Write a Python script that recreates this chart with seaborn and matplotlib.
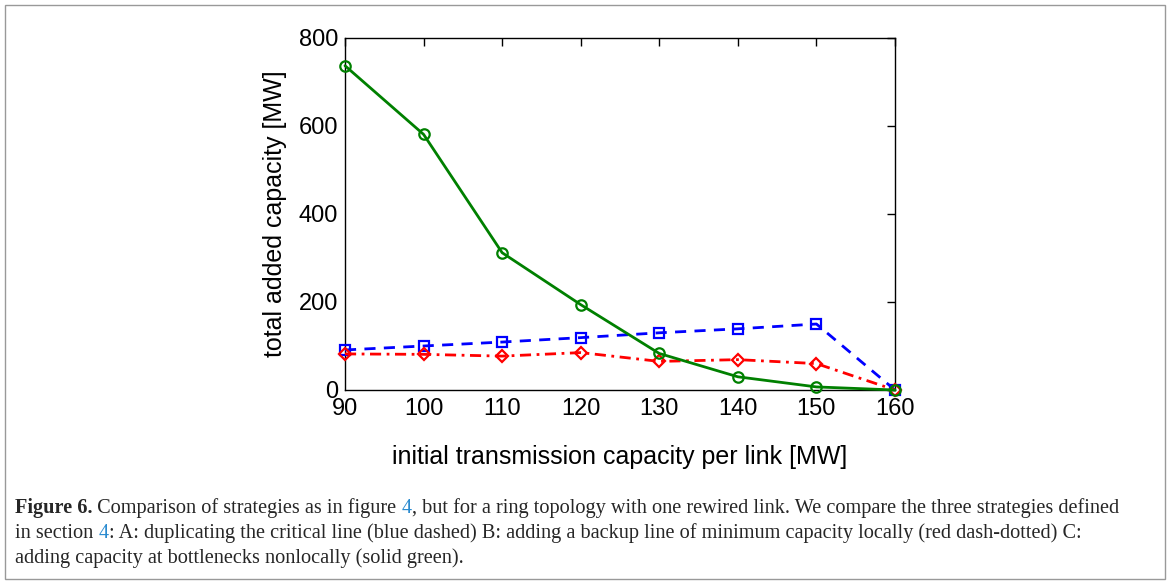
import matplotlib
matplotlib.use("Agg")
import matplotlib.pyplot as plt
import seaborn as sns
import pandas as pd
from matplotlib.patches import Rectangle

capacity = [90, 100, 110, 120, 130, 140, 150, 160]
strategy_a = [91, 100, 109, 119, 130, 139, 150, 0]   # blue dashed
strategy_b = [82, 81, 77, 85, 65, 69, 60, 0]          # red dash-dotted
strategy_c = [737, 581, 312, 194, 83, 30, 7, 0]       # solid green
x_ticks = [90, 100, 110, 120, 130, 140, 150, 160]
y_ticks = [0, 200, 400, 600, 800]

sns.set_theme(style="white")
plt.rcParams['font.family'] = ['Liberation Sans', 'DejaVu Sans']

fig = plt.figure(figsize=(11.71, 5.84), dpi=100)
ax = fig.add_axes([345/1171, 1-390/584, (895-345)/1171, (390-38)/584])

df = pd.DataFrame({"x": capacity * 3,
                   "y": strategy_a + strategy_b + strategy_c,
                   "s": ["A"] * 8 + ["B"] * 8 + ["C"] * 8})

styles = {
    "A": dict(color=(0, 0, 1), ls=(0, (4, 3)), marker="s"),
    "B": dict(color=(1, 0, 0), ls=(0, (4, 2, 1, 2)), marker="D"),
    "C": dict(color=(0, 0.5, 0), ls="-", marker="o"),
}
for key in ["A", "B", "C"]:
    st = styles[key]
    sub = df[df.s == key]
    ms = 7.5 if key != "B" else 6
    sns.lineplot(data=sub, x="x", y="y", ax=ax, color=st["color"],
                 linestyle=st["ls"], linewidth=2, marker=st["marker"],
                 markersize=ms, markerfacecolor="none",
                 markeredgecolor=st["color"], markeredgewidth=1.6,
                 legend=False, clip_on=False, zorder=3)

ax.set_xlim(90, 160)
ax.set_ylim(0, 800)
ax.set_xticks(x_ticks)
ax.set_yticks(y_ticks)
ax.tick_params(direction="in", length=6, width=1, top=True, right=True,
               labelsize=17, colors="black")
ax.tick_params(axis="x", pad=6)
ax.tick_params(axis="y", pad=5)
for sp in ax.spines.values():
    sp.set_visible(True)
    sp.set_color("black")
    sp.set_linewidth(1)
ax.set_xlabel("initial transmission capacity per link [MW]", fontsize=18,
              labelpad=18, color="black")
ax.set_ylabel("total added capacity [MW]", fontsize=18, labelpad=8,
              color="black")
ax.grid(False)

# border box
fig.patches.append(Rectangle((5/1171, 5/584), 1160/1171, 574/584,
                             transform=fig.transFigure, fill=False,
                             edgecolor="#999999", linewidth=1))

# caption
serif = ['Liberation Serif', 'DejaVu Serif']
fs = 14.6
renderer = fig.canvas.get_renderer()

def write_line(parts, x0, y):
    x = x0
    for txt, kw in parts:
        t = fig.text(x / 1171, 1 - y / 584, txt, family=serif, fontsize=fs,
                     va="baseline", ha="left", **kw)
        bb = t.get_window_extent(renderer=renderer)
        x += bb.width

blue_link = dict(color="#2a8bd0")
write_line([("Figure 6.", dict(weight="bold")),
            (" Comparison of strategies as in figure ", {}),
            ("4", blue_link),
            (", but for a ring topology with one rewired link. We compare the three strategies defined", {})],
           15, 513)
write_line([("in section ", {}), ("4", blue_link),
            (": A: duplicating the critical line (blue dashed) B: adding a backup line of minimum capacity locally (red dash-dotted) C:", {})],
           15, 538)
write_line([("adding capacity at bottlenecks nonlocally (solid green).", {})],
           15, 563)

fig.savefig("out.png", dpi=100)
